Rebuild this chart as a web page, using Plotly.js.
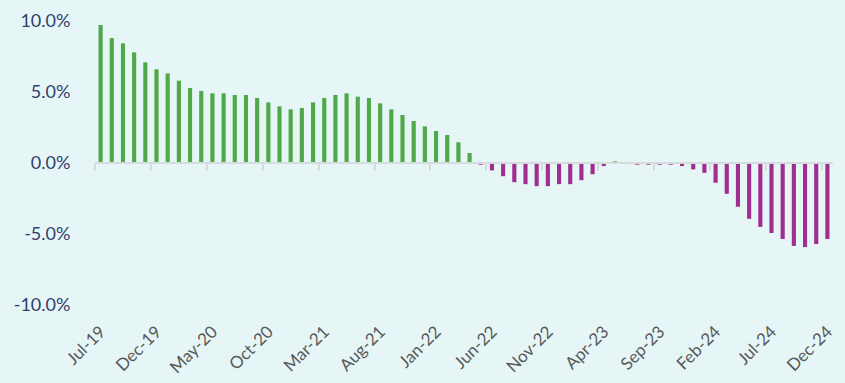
<!DOCTYPE html>
<html>
<head>
<meta charset="utf-8">
<script src="https://cdn.plot.ly/plotly-3.0.1.min.js"></script>
<style>
html,body{margin:0;padding:0;background:#e6f6f6;}
#chart{width:845px;height:383px;}
</style>
</head>
<body>
<div id="chart"></div>
<script>
// Monthly values, Jul-19 .. Dec-24 (percent)
const months = ["Jul-19","Aug-19","Sep-19","Oct-19","Nov-19","Dec-19",
  "Jan-20","Feb-20","Mar-20","Apr-20","May-20","Jun-20","Jul-20","Aug-20","Sep-20","Oct-20","Nov-20","Dec-20",
  "Jan-21","Feb-21","Mar-21","Apr-21","May-21","Jun-21","Jul-21","Aug-21","Sep-21","Oct-21","Nov-21","Dec-21",
  "Jan-22","Feb-22","Mar-22","Apr-22","May-22","Jun-22","Jul-22","Aug-22","Sep-22","Oct-22","Nov-22","Dec-22",
  "Jan-23","Feb-23","Mar-23","Apr-23","May-23","Jun-23","Jul-23","Aug-23","Sep-23","Oct-23","Nov-23","Dec-23",
  "Jan-24","Feb-24","Mar-24","Apr-24","May-24","Jun-24","Jul-24","Aug-24","Sep-24","Oct-24","Nov-24","Dec-24"];
const values = [9.72,8.80,8.43,7.79,7.09,6.60,
  6.31,5.80,5.28,5.07,4.91,4.91,4.79,4.79,4.58,4.27,3.99,3.78,
  3.87,4.27,4.58,4.79,4.91,4.67,4.58,4.20,3.78,3.38,2.96,2.58,
  2.25,1.97,1.46,0.70,-0.12,-0.52,-0.93,-1.35,-1.49,-1.63,-1.63,-1.49,
  -1.49,-1.21,-0.79,-0.22,0.12,0.0,-0.12,-0.12,-0.12,-0.12,-0.22,-0.45,
  -0.69,-1.39,-2.17,-3.08,-3.93,-4.50,-4.93,-5.35,-5.84,-5.92,-5.71,-5.35];
const tickLabels = ["Jul-19","Dec-19","May-20","Oct-20","Mar-21","Aug-21","Jan-22",
  "Jun-22","Nov-22","Apr-23","Sep-23","Feb-24","Jul-24","Dec-24"];
const yTicks = [-10,-5,0,5,10];
const yTickText = ["-10.0%","-5.0%","0.0%","5.0%","10.0%"];

const posColor = "#4fa84a", negColor = "#a02e90";
const colors = values.map(v => v >= 0 ? posColor : negColor);
// boundary tick positions (left edge of each labelled month) for the middle axis
const boundaryTicks = tickLabels.map(l => months.indexOf(l) - 0.5);

const traces = [
  {type:"bar", x:months, y:values, marker:{color:colors, line:{width:0}},
   hoverinfo:"x+y", showlegend:false},
  {type:"scatter", x:[], y:[], xaxis:"x2", yaxis:"y", showlegend:false, hoverinfo:"skip"}
];

const layout = {
  width:845, height:383,
  margin:{l:95, r:12, t:21, b:78},
  paper_bgcolor:"#e6f6f6", plot_bgcolor:"#e6f6f6",
  bargap:0.63,
  showlegend:false,
  font:{family:"Lato, 'Open Sans', sans-serif"},
  xaxis:{type:"category", categoryorder:"array", categoryarray:months,
    range:[-0.5, months.length-0.5],
    tickmode:"array", tickvals:tickLabels, ticktext:tickLabels,
    tickangle:-45, ticks:"outside", ticklen:9, tickcolor:"rgba(0,0,0,0)",
    tickfont:{size:17, color:"#595959", family:"Lato, sans-serif"},
    showline:false, showgrid:false, zeroline:false, fixedrange:true},
  xaxis2:{type:"linear", overlaying:"x", anchor:"free", position:0.5,
    range:[-0.5, months.length-0.5],
    tickmode:"array", tickvals:boundaryTicks, showticklabels:false,
    ticks:"outside", ticklen:7, tickwidth:2, tickcolor:"#d6dcdc",
    showline:true, linecolor:"#d6dcdc", linewidth:2,
    showgrid:false, zeroline:false, fixedrange:true},
  yaxis:{range:[-10,10], tickmode:"array", tickvals:yTicks, ticktext:yTickText,
    ticks:"outside", ticklen:20, tickcolor:"rgba(0,0,0,0)",
    tickfont:{size:18, color:"#2f3f6f", family:"Lato, sans-serif"},
    showgrid:false, zeroline:false, showline:false, fixedrange:true}
};

Plotly.newPlot("chart", traces, layout, {displayModeBar:false, staticPlot:true});
</script>
</body>
</html>
